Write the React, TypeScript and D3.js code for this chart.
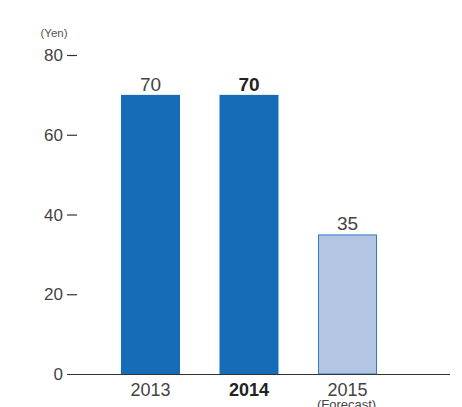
import React from "react";
import * as d3 from "d3";

const categories = ["2013", "2014", "2015"];
const values = [70, 70, 35];
const subLabels = ["", "", "(Forecast)"];
const yTicks = [0, 20, 40, 60, 80];

const W = 462, H = 407;
const y0 = 374, yTop = 55;
const xLeft = 72, xRight = 450;

export default function App() {
  const y = d3.scaleLinear().domain([0, 80]).range([y0, yTop]);
  const x = d3.scaleBand().domain(categories).range([72, 367 + 60]).paddingInner(0.4).paddingOuter(0.5);
  const bw = 59;
  const centers = [150.5, 249.5, 347.5];
  const xc = d3.scalePoint().domain(categories).range([centers[0], centers[2]]);
  const font = "'Liberation Sans', Arial, sans-serif";
  return (
    <svg width={W} height={H} style={{ position: "absolute", left: 0, top: 0, fontFamily: font }}>
      <text x={54} y={37} fontSize={11.5} fill="#555" textAnchor="middle">(Yen)</text>
      {yTicks.map((t) => (
        <g key={t}>
          <text x={63} y={y(t) + 6} fontSize={17} fill="#444" textAnchor="end">{t}</text>
          {t !== 0 && <line x1={67} x2={77} y1={y(t) + 0.5} y2={y(t) + 0.5} stroke="#333" strokeWidth={1.2} />}
        </g>
      ))}
      {categories.map((c, i) => {
        const cx = xc(c)!;
        const forecast = i === 2;
        const bold = i === 1;
        return (
          <g key={c}>
            <rect
              x={cx - bw / 2 + (forecast ? 0.5 : 0)}
              y={y(values[i]) + (forecast ? 0.5 : 0)}
              width={bw - (forecast ? 1 : 0)}
              height={y0 - y(values[i]) - (forecast ? 0.5 : 0)}
              fill={forecast ? "#b4c5e3" : "#166cb6"}
              stroke={forecast ? "#2f7cc4" : "none"}
              strokeWidth={1}
            />
            <text x={cx} y={y(values[i]) - 4} fontSize={19} fill={bold ? "#222" : "#444"} fontWeight={bold ? "bold" : "normal"} textAnchor="middle">{values[i]}</text>
            <text x={cx} y={396} fontSize={18} fill={bold ? "#222" : "#444"} fontWeight={bold ? "bold" : "normal"} textAnchor="middle">{c}</text>
            {subLabels[i] && <text x={cx - 1} y={409} fontSize={13} fill="#444" textAnchor="middle">{subLabels[i]}</text>}
          </g>
        );
      })}
      <line x1={67} x2={xRight} y1={y0 + 0.5} y2={y0 + 0.5} stroke="#333" strokeWidth={1.2} />
    </svg>
  );
}
